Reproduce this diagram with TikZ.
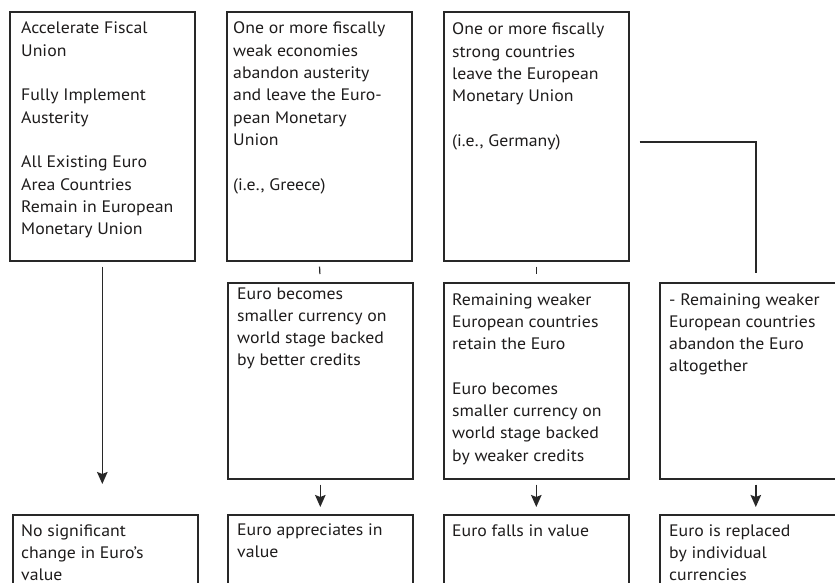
\documentclass[tikz,border=0pt]{standalone}
\usepackage{fontspec}
\setmainfont{PT Sans}[FakeStretch=1.07]
\usetikzlibrary{arrows.meta,calc}
\definecolor{linec}{RGB}{40,40,40}
\definecolor{textc}{RGB}{30,28,28}
\begin{document}
\begin{tikzpicture}[x=1pt,y=-1pt,
  box/.style={draw=linec, line width=1.6pt, inner sep=0pt, anchor=north west},
  txt/.style={anchor=base west, inner sep=0pt, text=textc, font=\fontsize{16.6}{22.3}\selectfont},
  link/.style={draw=linec, line width=1.6pt},
  arr/.style={link, -{Stealth[length=12pt,width=10.5pt,inset=2pt]}}]
\useasboundingbox (0,0) rectangle (835,583);
\fill[white] (0,0) rectangle (835,583);
\clip (0,0) rectangle (835,583);
% top row
\node[box, minimum width=185pt, minimum height=249pt] (b1) at (9,11) {};
\node[box, minimum width=185pt, minimum height=249pt] (b2) at (226,11) {};
\node[box, minimum width=185pt, minimum height=249pt] (b3) at (443,11) {};
% middle row
\node[box, minimum width=185pt, minimum height=196pt] (m2) at (227,282) {};
\node[box, minimum width=185pt, minimum height=196pt] (m3) at (443,282) {};
\node[box, minimum width=192pt, minimum height=196pt] (m4) at (659,282) {};
% bottom row
\node[box, minimum width=185pt, minimum height=90pt] (c1) at (12,514) {};
\node[box, minimum width=185pt, minimum height=90pt] (c2) at (227,514) {};
\node[box, minimum width=185pt, minimum height=90pt] (c3) at (443,514) {};
\node[box, minimum width=192pt, minimum height=90pt] (c4) at (659,514) {};
% texts
\node[txt] (t1) at (21,34) {\begin{tabular}[t]{@{}l@{}}Accelerate Fiscal\\Union\\ \\Fully Implement\\Austerity\\ \\All Existing Euro\\Area Countries\\Remain in European\\Monetary Union\end{tabular}};
\node[txt] (t2) at (233,34) {\begin{tabular}[t]{@{}l@{}}One or more fiscally\\weak economies\\abandon austerity\\and leave the Euro-\\pean Monetary\\Union\\ \\(i.e., Greece)\end{tabular}};
\node[txt] (t3) at (452,35) {\begin{tabular}[t]{@{}l@{}}One or more fiscally\\strong countries\\leave the European\\Monetary Union\\ \\(i.e., Germany)\end{tabular}};
\node[txt] (t4) at (237,299) {\begin{tabular}[t]{@{}l@{}}Euro becomes\\smaller currency on\\world stage backed\\by better credits\end{tabular}};
\node[txt] (t5) at (452,305) {\begin{tabular}[t]{@{}l@{}}Remaining weaker\\European countries\\retain the Euro\\ \\Euro becomes\\smaller currency on\\world stage backed\\by weaker credits\end{tabular}};
\node[txt] (t6) at (669,305) {\begin{tabular}[t]{@{}l@{}}- Remaining weaker\\European countries\\abandon the Euro\\altogether\end{tabular}};
\node[txt] (t7) at (21,536) {\begin{tabular}[t]{@{}l@{}}No significant\\change in Euro’s\\value\end{tabular}};
\node[txt] (t8) at (237,535) {\begin{tabular}[t]{@{}l@{}}Euro appreciates in\\value\end{tabular}};
\node[txt] (t9) at (452,536) {Euro falls in value};
\node[txt] (t10) at (669,536) {\begin{tabular}[t]{@{}l@{}}Euro is replaced\\by individual\\currencies\end{tabular}};
% connectors
\draw[arr, shorten <=5pt, shorten >=30pt] (b1.south) -- (b1.south |- c1.north);
\draw[link, line width=1.2pt, shorten <=5pt, shorten >=8pt] (b2.south) -- (m2.north);
\draw[link, line width=1.2pt, shorten <=5pt, shorten >=8pt] (b3.south) -- (m3.north);
\draw[arr, shorten <=5pt, shorten >=7pt] (m2.south) -- (c2.north);
\draw[arr, shorten <=5pt, shorten >=7pt] (m3.south) -- (c3.north);
\draw[arr, shorten <=5pt, shorten >=7pt] (m4.south) -- (c4.north);
\coordinate (g) at ($(b3.east)+(10,5.5)$);
\draw[link, shorten >=9pt] (g) -| (m4.north);
\end{tikzpicture}
\end{document}
